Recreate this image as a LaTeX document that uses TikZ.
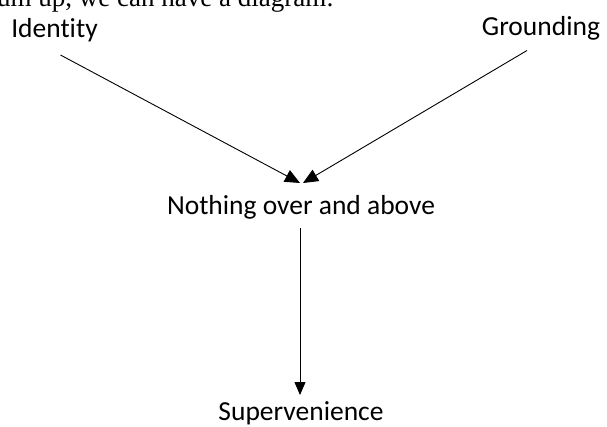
\documentclass[tikz,border=0pt]{standalone}
\usepackage{fontspec}
\setmainfont[Ligatures=NoCommon]{Carlito}
\newfontfamily\bodyserif{Liberation Serif}
\usetikzlibrary{arrows.meta}
\begin{document}
\begin{tikzpicture}[x=1pt,y=-1pt,
  label/.style={inner sep=0pt, font=\fontsize{27.5}{32}\selectfont, anchor=base},
  arr/.style={line width=0.9pt, -{Triangle[length=15pt,width=13pt]}},
  downarr/.style={line width=0.9pt, -{Triangle[length=13pt,width=11pt]}}]
\useasboundingbox (0,0) rectangle (607,426);
\clip (0,0) rectangle (607,426);
% running text above the diagram, cut by the top edge
\node[inner sep=0pt, anchor=base east, font=\bodyserif\fontsize{27}{31}\selectfont] (run) at (334,6.5) {To sum up, we can have a diagram:};
\node[label] (id) at (54.5,37) {Identity};
\node[label] (gr) at (541,35.5) {Grounding};
\node[label] (mid) at (301,214) {Nothing over and above};
\node[label] (sup) at (301,420.5) {Supervenience};
\draw[arr] ([xshift=6pt,yshift=-18pt]id.base) -- ([xshift=-1pt,yshift=31pt]mid.base);
\draw[arr] ([xshift=-14pt,yshift=-15pt]gr.base) -- ([xshift=2pt,yshift=31pt]mid.base);
\draw[downarr] ([xshift=-1pt,yshift=-14pt]mid.base) -- ([xshift=-1pt,yshift=25.5pt]sup.base);
\end{tikzpicture}
\end{document}
